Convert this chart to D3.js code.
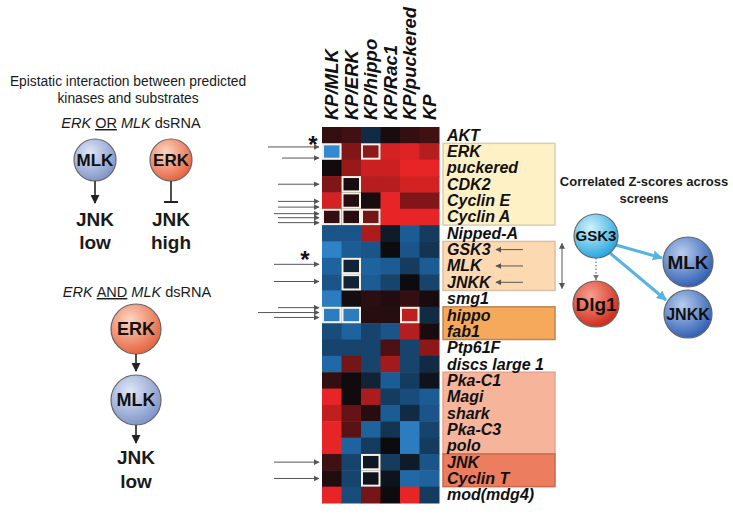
<!DOCTYPE html>
<html><head><meta charset="utf-8">
<script src="https://cdn.jsdelivr.net/npm/d3@7"></script>
<style>body{margin:0;background:#fff}svg{display:block;font-family:"Liberation Sans",Arial,Helvetica,sans-serif}</style>
</head><body><svg id="c" width="733" height="516"></svg>
<script>
// ---------- data ----------
const columns = ["KP/MLK","KP/ERK","KP/hippo","KP/Rac1","KP/puckered","KP"];
const genes = ["AKT","ERK","puckered","CDK2","Cyclin E","Cyclin A","Nipped-A","GSK3","MLK","JNKK","smg1","hippo","fab1","Ptp61F","discs large 1","Pka-C1","Magi","shark","Pka-C3","polo","JNK","Cyclin T","mod(mdg4)"];
// Z-score-like values per screen (row order = genes); + red, - blue
const kpMLK      = [0.15,-0.85,0.02,0.45,0.85,0.15,-0.45,-0.8,-0.55,-0.45,-0.75,-0.75,-0.4,-0.35,-0.6,0.15,0.95,0.75,0.95,0.95,0.2,0.08,0.95];
const kpERK      = [0.2,0.45,0.55,0.05,0.1,0.1,-0.45,-0.5,-0.15,-0.15,0.03,-0.75,-0.55,-0.35,0.4,0.02,0.02,0.35,0.3,-0.55,-0.35,-0.35,-0.4];
const kpHippo    = [-0.2,0.5,0.8,0.7,0.05,0.4,0.65,-0.45,-0.55,-0.5,0.12,0.1,-0.35,-0.35,-0.35,-0.15,0.65,0.1,-0.55,-0.3,-0.08,-0.05,0.4];
const kpRac1     = [0.05,0.85,0.8,0.7,0.95,0.95,-0.1,0,-0.5,-0.35,0.08,0.1,-0.45,0.25,0.6,-0.5,-0.3,-0.5,-0.25,0,-0.3,-0.05,0];
const kpPuckered = [0.15,0.9,0.95,0.85,0.45,0.95,-0.5,-0.45,-0.3,0,0.15,0.75,0.7,-0.35,-0.35,-0.3,-0.4,-0.2,-0.75,-0.75,-0.1,-0.6,0.95];
const kp         = [0.2,0.7,0.95,0.85,0.45,0.95,-0.3,-0.25,-0.5,-0.35,0.05,-0.2,0.05,0.5,-0.2,-0.05,-0.5,-0.45,-0.35,-0.3,-0.45,-0.55,-0.3];
const seriesValues = [kpMLK,kpERK,kpHippo,kpRac1,kpPuckered,kp];
// outlined cells [gene, column]
const boxedCells = [["ERK","KP/MLK"],["ERK","KP/hippo"],["CDK2","KP/ERK"],["Cyclin E","KP/ERK"],["Cyclin A","KP/MLK"],["Cyclin A","KP/ERK"],["Cyclin A","KP/hippo"],["MLK","KP/ERK"],["JNKK","KP/ERK"],["hippo","KP/MLK"],["hippo","KP/ERK"],["hippo","KP/puckered"],["JNK","KP/hippo"],["Cyclin T","KP/hippo"]];
// gene groups
const groups = [
  {from:"ERK", to:"Cyclin A", fill:"#fef1c6", stroke:"#d9cfb2"},
  {from:"GSK3", to:"JNKK", fill:"#fcd9b1", stroke:"#d8bfa5"},
  {from:"hippo", to:"fab1", fill:"#f7a95b", stroke:"#b9875a"},
  {from:"Pka-C1", to:"polo", fill:"#f6b49b", stroke:"#e3a58f"},
  {from:"JNK", to:"Cyclin T", fill:"#ec7d5f", stroke:"#c96a50"}
];
// pointer arrows on the left: gene + fractional position in row, length
const pointers = [
  {gene:"ERK",f:0.22,len:50},{gene:"ERK",f:0.9,len:36},{gene:"CDK2",f:0.5,len:40},
  {gene:"Cyclin E",f:0.55,len:40},{gene:"Cyclin E",f:0.9,len:40},{gene:"Cyclin A",f:0.3,len:44},{gene:"Cyclin A",f:0.55,len:40},{gene:"Cyclin A",f:0.85,len:40},
  {gene:"MLK",f:0.4,len:44},{gene:"JNKK",f:0.45,len:44},
  {gene:"hippo",f:0.05,len:40},{gene:"hippo",f:0.35,len:60},{gene:"hippo",f:0.65,len:44},
  {gene:"JNK",f:0.5,len:44},{gene:"Cyclin T",f:0.5,len:44}
];
const stars = ["AKT","GSK3"];
const innerArrows = ["GSK3","MLK","JNKK"];

// ---------- drawing ----------
const svg = d3.select("#c");
const defs = svg.append("defs");
function grad(id, c0, c1){
  const g = defs.append("radialGradient").attr("id",id).attr("cx","38%").attr("cy","32%").attr("r","70%");
  g.append("stop").attr("offset","0%").attr("stop-color",c0);
  g.append("stop").attr("offset","100%").attr("stop-color",c1);
}
grad("gBlueGray","#dfe6f6","#7f95c9");
grad("gOrange","#fcd6c2","#e6633f");
grad("gCyan","#d2f2fc","#26a6de");
grad("gBlue","#b9cdf0","#2f5fb2");
grad("gRed","#f7a090","#d22a18");
function marker(id, color, size){
  defs.append("marker").attr("id",id).attr("viewBox","0 0 10 10").attr("refX",9).attr("refY",5)
    .attr("markerWidth",size).attr("markerHeight",size).attr("orient","auto-start-reverse").attr("markerUnits","userSpaceOnUse")
    .append("path").attr("d","M0,0 L10,5 L0,10 Z").attr("fill",color);
}
marker("aDark","#222",9);
marker("aGray","#555",6);
marker("aBlue","#58b3e3",10);
marker("aDot","#777",6);

const x = d3.scaleBand().domain(columns).range([322,439]);
const y = d3.scaleBand().domain(genes).range([127,503]);
const color = d3.scaleLinear().domain([-1,-0.5,0,0.5,1])
  .range(["#3b9de8","#1b5c95","#0c0b0e","#8e1719","#f22627"]).clamp(true);

const cells = [];
columns.forEach((c,ci)=>genes.forEach((g,gi)=>cells.push({c,g,v:seriesValues[ci][gi]})));

// group boxes
const gx0 = 443, gx1 = 555;
svg.append("g").selectAll("rect").data(groups).join("rect")
  .attr("x",gx0).attr("width",gx1-gx0)
  .attr("y",d=>y(d.from)).attr("height",d=>y(d.to)+y.bandwidth()-y(d.from))
  .attr("fill",d=>d.fill).attr("stroke",d=>d.stroke).attr("stroke-width",1.5);

// heatmap
svg.append("g").selectAll("rect").data(cells).join("rect")
  .attr("x",d=>x(d.c)).attr("y",d=>y(d.g)).attr("width",x.bandwidth()+0.5).attr("height",y.bandwidth()+0.5)
  .attr("fill",d=>color(d.v));
svg.append("g").selectAll("rect").data(boxedCells).join("rect")
  .attr("x",d=>x(d[1])+1).attr("y",d=>y(d[0])+1).attr("width",x.bandwidth()-2).attr("height",y.bandwidth()-2)
  .attr("fill","none").attr("stroke","#f6f1e6").attr("stroke-width",2);

// column headers
svg.append("g").selectAll("text").data(columns).join("text")
  .attr("transform",d=>`translate(${x(d)+x.bandwidth()/2+6.5},120) rotate(-90)`)
  .attr("font-size",18.5).attr("font-weight","bold").attr("font-style","italic").attr("fill","#111")
  .text(d=>d);

// row labels
svg.append("g").selectAll("text").data(genes).join("text")
  .attr("x",447).attr("y",d=>y(d)+y.bandwidth()/2+5.5)
  .attr("font-size",16).attr("font-weight","bold").attr("font-style","italic").attr("fill","#111")
  .text(d=>d);

// pointer arrows
svg.append("g").selectAll("line").data(pointers).join("line")
  .attr("x1",d=>x.range()[0]-4-d.len).attr("x2",x.range()[0]-3)
  .attr("y1",d=>y(d.gene)+d.f*y.bandwidth()).attr("y2",d=>y(d.gene)+d.f*y.bandwidth())
  .attr("stroke","#555").attr("stroke-width",1).attr("marker-end","url(#aGray)");
svg.append("g").selectAll("text").data(stars).join("text")
  .attr("x",(d,i)=>i===0?313:305).attr("y",d=>y(d)+y.bandwidth()+10)
  .attr("text-anchor","middle").attr("font-size",24).attr("font-weight","bold").attr("fill","#111").text("*");

// arrows inside the light orange box
svg.append("g").selectAll("line").data(innerArrows).join("line")
  .attr("x1",523).attr("x2",496)
  .attr("y1",d=>y(d)+y.bandwidth()/2).attr("y2",d=>y(d)+y.bandwidth()/2)
  .attr("stroke","#555").attr("stroke-width",1).attr("marker-end","url(#aGray)");
svg.append("line").attr("x1",562).attr("x2",562)
  .attr("y1",y("GSK3")+2).attr("y2",y("JNKK")+y.bandwidth()-2)
  .attr("stroke","#555").attr("stroke-width",1)
  .attr("marker-start","url(#aGray)").attr("marker-end","url(#aGray)");

// ---------- left panel ----------
const L = svg.append("g").attr("fill","#1a1a1a");
L.append("text").attr("x",128).attr("y",86).attr("text-anchor","middle").attr("font-size",13.8).text("Epistatic interaction between predicted");
L.append("text").attr("x",128).attr("y",103).attr("text-anchor","middle").attr("font-size",13.8).text("kinases and substrates");
const t1 = L.append("text").attr("x",131).attr("y",128).attr("text-anchor","middle").attr("font-size",14.5);
t1.append("tspan").attr("font-style","italic").text("ERK ");
t1.append("tspan").attr("text-decoration","underline").text("OR");
t1.append("tspan").attr("font-style","italic").text(" MLK");
t1.append("tspan").text(" dsRNA");

function node(g, cx, cy, r, fill, label, fs){
  g.append("circle").attr("cx",cx).attr("cy",cy).attr("r",r).attr("fill",`url(#${fill})`).attr("stroke","#666").attr("stroke-width",1.2);
  g.append("text").attr("x",cx).attr("y",cy+fs*0.36).attr("text-anchor","middle").attr("font-size",fs).attr("font-weight","bold").attr("fill","#111").text(label);
}
node(L,95,160,21,"gBlueGray","MLK",17);
node(L,171,160,21,"gOrange","ERK",17);
L.append("line").attr("x1",95).attr("x2",95).attr("y1",181).attr("y2",203).attr("stroke","#222").attr("stroke-width",1.6).attr("marker-end","url(#aDark)");
L.append("line").attr("x1",171).attr("x2",171).attr("y1",181).attr("y2",202).attr("stroke","#222").attr("stroke-width",1.6);
L.append("line").attr("x1",164).attr("x2",178).attr("y1",202).attr("y2",202).attr("stroke","#222").attr("stroke-width",2);
[[95,"JNK","low"],[171,"JNK","high"]].forEach(d=>{
  L.append("text").attr("x",d[0]).attr("y",226).attr("text-anchor","middle").attr("font-size",19).attr("font-weight","bold").text(d[1]);
  L.append("text").attr("x",d[0]).attr("y",249).attr("text-anchor","middle").attr("font-size",19).attr("font-weight","bold").text(d[2]);
});
const t2 = L.append("text").attr("x",137).attr("y",297).attr("text-anchor","middle").attr("font-size",14.5);
t2.append("tspan").attr("font-style","italic").text("ERK ");
t2.append("tspan").attr("text-decoration","underline").text("AND");
t2.append("tspan").attr("font-style","italic").text(" MLK");
t2.append("tspan").text(" dsRNA");
node(L,136,329,25,"gOrange","ERK",18);
L.append("line").attr("x1",136).attr("x2",136).attr("y1",354).attr("y2",371).attr("stroke","#222").attr("stroke-width",1.6).attr("marker-end","url(#aDark)");
node(L,136,400,25,"gBlueGray","MLK",18);
L.append("line").attr("x1",136).attr("x2",136).attr("y1",425).attr("y2",443).attr("stroke","#222").attr("stroke-width",1.6).attr("marker-end","url(#aDark)");
L.append("text").attr("x",136).attr("y",464).attr("text-anchor","middle").attr("font-size",19).attr("font-weight","bold").text("JNK");
L.append("text").attr("x",136).attr("y",488).attr("text-anchor","middle").attr("font-size",19).attr("font-weight","bold").text("low");

// ---------- right panel ----------
const R = svg.append("g").attr("fill","#1a1a1a");
R.append("text").attr("x",644).attr("y",186).attr("text-anchor","middle").attr("font-size",13).attr("font-weight","bold").text("Correlated Z-scores across");
R.append("text").attr("x",644).attr("y",203).attr("text-anchor","middle").attr("font-size",13).attr("font-weight","bold").text("screens");
R.append("line").attr("x1",596).attr("x2",596).attr("y1",258).attr("y2",280).attr("stroke","#777").attr("stroke-width",1.3).attr("stroke-dasharray","1.5,2").attr("marker-end","url(#aDot)");
R.append("line").attr("x1",616).attr("x2",662).attr("y1",245).attr("y2",258).attr("stroke","#58b3e3").attr("stroke-width",3).attr("marker-end","url(#aBlue)");
R.append("line").attr("x1",610).attr("x2",666).attr("y1",253).attr("y2",300).attr("stroke","#58b3e3").attr("stroke-width",3).attr("marker-end","url(#aBlue)");
node(R,596,236,22,"gCyan","GSK3",15);
node(R,596,304,23,"gRed","Dlg1",19);
node(R,688,262,25,"gBlue","MLK",19);
node(R,688,314,24,"gBlue","JNKK",16);
</script></body></html>
